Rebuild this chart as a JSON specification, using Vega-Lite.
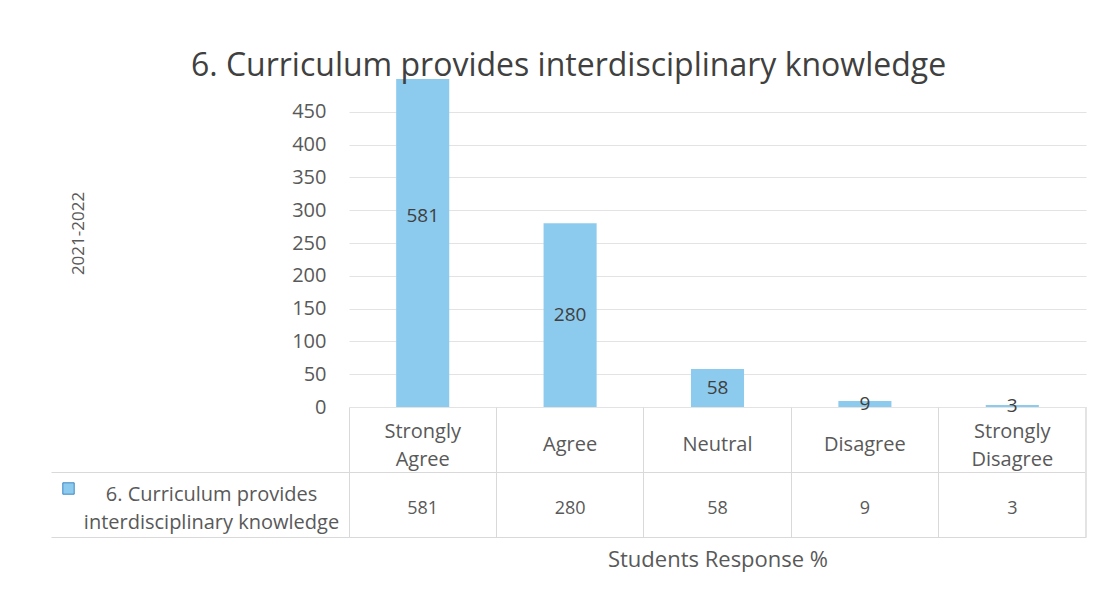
{
  "$schema": "https://vega.github.io/schema/vega-lite/v6.json",
  "background": "white",
  "padding": {"left": 50, "top": 50, "right": 18, "bottom": 20},
  "bounds": "flush",
  "title": {"text": "6. Curriculum provides interdisciplinary knowledge", "font": "Open Sans", "fontSize": 32, "fontWeight": "normal", "color": "#404040", "anchor": "middle", "offset": -4},
  "config": {"view": {"stroke": null}, "font": "Open Sans"},
  "data": {"values": [
    {"category": "Strongly Agree", "value": 581, "series": "6. Curriculum provides interdisciplinary knowledge"},
    {"category": "Agree", "value": 280, "series": "6. Curriculum provides interdisciplinary knowledge"},
    {"category": "Neutral", "value": 58, "series": "6. Curriculum provides interdisciplinary knowledge"},
    {"category": "Disagree", "value": 9, "series": "6. Curriculum provides interdisciplinary knowledge"},
    {"category": "Strongly Disagree", "value": 3, "series": "6. Curriculum provides interdisciplinary knowledge"}
  ]},
  "spacing": 0,
  "vconcat": [
    {
      "width": 737,
      "height": 328,
      "layer": [
        {
          "mark": {"type": "bar", "clip": true, "width": {"band": 0.36}},
          "encoding": {
            "x": {"field": "category", "type": "nominal", "sort": null, "scale": {"type": "band", "paddingInner": 0, "paddingOuter": 0}, "axis": null},
            "y": {"field": "value", "type": "quantitative", "scale": {"domain": [0, 500], "nice": false}, "axis": {"values": [0, 50, 100, 150, 200, 250, 300, 350, 400, 450], "labelOverlap": false, "domain": false, "ticks": false, "gridColor": "#e3e3e3", "labelFontSize": 20, "labelColor": "#595959", "labelPadding": 23, "title": "2021-2022", "titleFontSize": 17, "titleFontWeight": "normal", "titleColor": "#595959", "titlePadding": 204, "titleY": 154}},
            "color": {"field": "series", "type": "nominal", "scale": {"range": ["#8ccbee"]}, "legend": {"orient": "none", "legendX": -287, "legendY": 403, "title": null, "labelExpr": "''", "symbolType": "square", "symbolSize": 130, "symbolStrokeColor": "#3c87c4", "symbolStrokeWidth": 1}}
          }
        },
        {
          "transform": [{"calculate": "datum.value / 2", "as": "mid"}],
          "mark": {"type": "text", "fontSize": 19, "color": "#404040", "baseline": "middle"},
          "encoding": {
            "x": {"field": "category", "type": "nominal", "sort": null},
            "y": {"field": "mid", "type": "quantitative", "axis": {"values": [0, 50, 100, 150, 200, 250, 300, 350, 400, 450], "labelOverlap": false, "domain": false, "ticks": false, "gridColor": "#e3e3e3", "labelFontSize": 20, "labelColor": "#595959", "labelPadding": 23, "title": "2021-2022", "titleFontSize": 17, "titleFontWeight": "normal", "titleColor": "#595959", "titlePadding": 204, "titleY": 154}},
            "text": {"field": "value", "type": "quantitative"}
          }
        }
      ]
    },
    {
      "width": 737,
      "height": 130,
      "layer": [
        {
          "transform": [{"filter": "indexof(datum.category, ' ') < 0"}],
          "mark": {"type": "text", "fontSize": 20, "color": "#595959", "baseline": "middle", "dy": 5},
          "encoding": {
            "x": {"field": "category", "type": "nominal", "sort": null, "scale": {"type": "band", "paddingInner": 0, "paddingOuter": 0, "domain": ["Strongly Agree", "Agree", "Neutral", "Disagree", "Strongly Disagree"]}, "axis": {"orient": "bottom", "labels": false, "ticks": false, "domain": false, "grid": true, "bandPosition": 0, "gridColor": "#d9d9d9", "title": "Students Response %", "titleFontSize": 22, "titleFontWeight": "normal", "titleColor": "#595959", "titlePadding": 12}},
            "y": {"datum": "header", "type": "nominal", "scale": {"type": "band", "domain": ["header", "values"], "paddingInner": 0, "paddingOuter": 0}, "axis": {"title": null, "domain": false, "grid": true, "gridColor": "#d9d9d9", "ticks": true, "tickSize": 298, "tickColor": "#d9d9d9", "bandPosition": 1, "labelExpr": "datum.value == 'values' ? ['6. Curriculum provides', 'interdisciplinary knowledge'] : ''", "labelAlign": "center", "labelBaseline": "middle", "labelPadding": -160, "labelOffset": -10, "labelLineHeight": 28, "labelFontSize": 20, "labelColor": "#595959", "labelLimit": 0}},
            "text": {"field": "category", "type": "nominal"}
          }
        },
        {
          "transform": [{"filter": "indexof(datum.category, ' ') >= 0"}],
          "mark": {"type": "text", "fontSize": 20, "color": "#595959", "baseline": "middle", "lineBreak": " ", "lineHeight": 28, "dy": -8},
          "encoding": {
            "x": {"field": "category", "type": "nominal", "sort": null},
            "y": {"datum": "header", "type": "nominal"},
            "text": {"field": "category", "type": "nominal"}
          }
        },
        {
          "mark": {"type": "text", "fontSize": 18, "color": "#595959", "baseline": "middle", "dy": 4},
          "encoding": {
            "x": {"field": "category", "type": "nominal", "sort": null},
            "y": {"datum": "values", "type": "nominal"},
            "text": {"field": "value", "type": "quantitative"}
          }
        },
        {
          "mark": {"type": "rule", "color": "#e3e3e3"},
          "encoding": {
            "x": {"datum": "Strongly Disagree", "type": "nominal", "bandPosition": 1}
          }
        }
      ]
    }
  ]
}
